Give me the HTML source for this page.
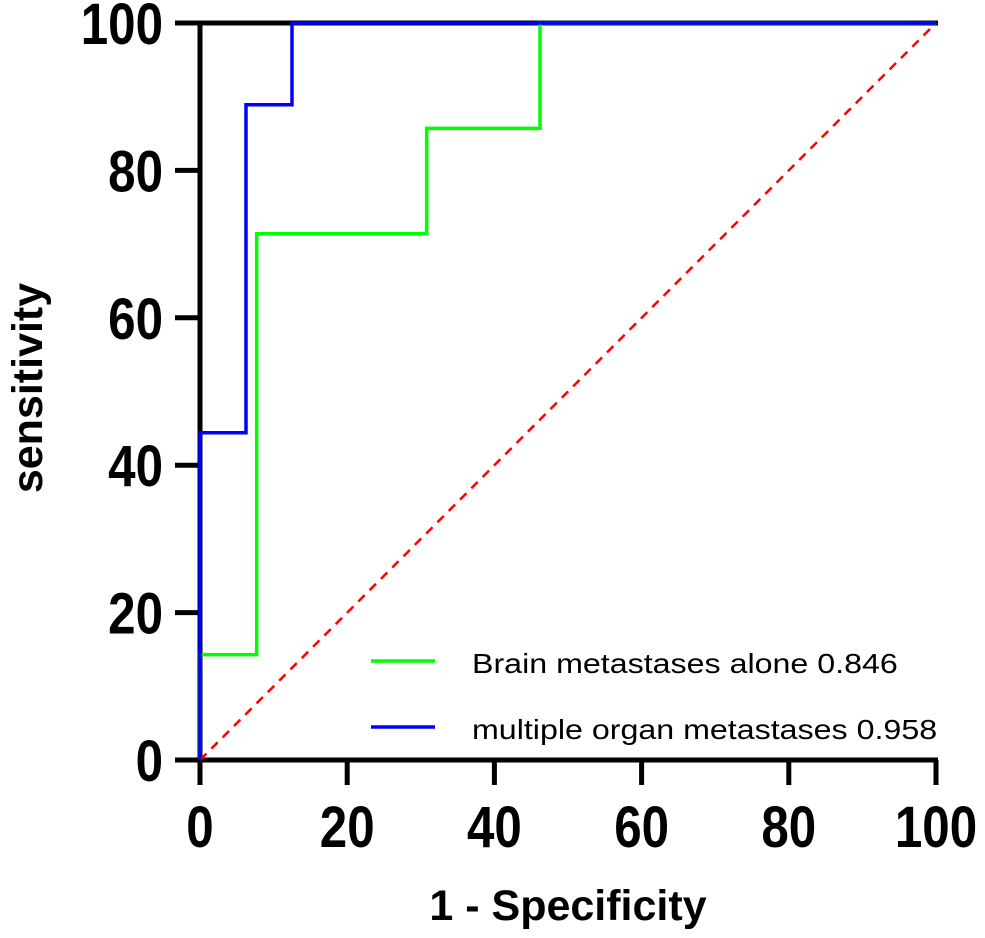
<!DOCTYPE html>
<html><head><meta charset="utf-8"><style>
body{margin:0;background:#fff;}
svg text{font-family:"Liberation Sans",Arial,sans-serif;}
</style></head><body>
<svg id="chart" width="985" height="933" viewBox="0 0 985 933" xmlns="http://www.w3.org/2000/svg">
<g id="axes"></g>
<g id="marks"></g>
</svg>
<script>
const xTicks=[0,20,40,60,80,100];
const yTicks=[0,20,40,60,80,100];
const greenX=[0,0,7.7,7.7,30.8,30.8,46.2,46.2,100];
const greenY=[0,14.3,14.3,71.4,71.4,85.7,85.7,100,100];
const blueX=[0,0,6.25,6.25,12.5,12.5,100];
const blueY=[0,44.4,44.4,88.9,88.9,100,100];
const seriesNames=["Brain metastases alone 0.846","multiple organ metastases 0.958"];

const X0=200,X1=936,Y0=760,Y1=23;
const sx=v=>X0+(X1-X0)*v/100;
const sy=v=>Y0-(Y0-Y1)*v/100;
const NS="http://www.w3.org/2000/svg";
const marksG=document.getElementById('marks');
const axesG=document.getElementById('axes');
function mk(tag,attrs,parent){const e=document.createElementNS(NS,tag);for(const k in attrs)e.setAttribute(k,attrs[k]);parent.appendChild(e);return e;}

const yAxisLine=mk('line',{x1:X0,y1:Y1-2,x2:X0,y2:Y0+2,stroke:'#000','stroke-width':5},axesG);


const xAxisLine=mk('line',{x1:X0-25,y1:Y0,x2:X1+2,y2:Y0,stroke:'#000','stroke-width':5},axesG);


const topBorder=mk('line',{x1:X0-25,y1:Y1,x2:X1+2,y2:Y1,stroke:'#000','stroke-width':5},axesG);



xTicks.forEach(v=>{
  const t=mk('line',{x1:sx(v),y1:Y0,x2:sx(v),y2:Y0+25,stroke:'#000','stroke-width':5},axesG);
  
  
  const l=mk('text',{x:0,y:0,transform:'translate('+sx(v)+',847) scale(0.85,1)','text-anchor':'middle','font-size':58,'font-weight':'bold'},axesG);
  l.textContent=v;
  
  
});
yTicks.forEach(v=>{
  const t=mk('line',{x1:X0-25,y1:sy(v),x2:X0,y2:sy(v),stroke:'#000','stroke-width':5},axesG);
  
  
  const l=mk('text',{x:0,y:0,transform:'translate(163,'+(sy(v)+21)+') scale(0.85,1)','text-anchor':'end','font-size':58,'font-weight':'bold'},axesG);
  l.textContent=v;
  
  
});
const xTitle=mk('text',{x:568,y:920,'text-anchor':'middle','font-size':43,'font-weight':'bold'},axesG);
xTitle.textContent='1 - Specificity';


const yTitle=mk('text',{x:0,y:0,'text-anchor':'middle','font-size':43,'font-weight':'bold',transform:'translate(42,388) rotate(-90)'},axesG);
yTitle.textContent='sensitivity';



const diag=mk('line',{x1:sx(0),y1:sy(0),x2:sx(100),y2:sy(100),stroke:'#ff0000','stroke-width':2.5,'stroke-dasharray':'9,7'},marksG);



function poly(xs,ys,color,name){
  const p=mk('polyline',{points:xs.map((x,i)=>sx(x)+','+sy(ys[i])).join(' '),fill:'none',stroke:color,'stroke-width':3.5},marksG);
  
  
}
poly(greenX,greenY,'#00ff00','roc-brain-metastases');
poly(blueX,blueY,'#0000ff','roc-multiple-organ');

const legColors=['#00ff00','#0000ff'];
seriesNames.forEach((n,i)=>{
  const y=661+i*66;
  const ln=mk('line',{x1:371,y1:y,x2:435,y2:y,stroke:legColors[i],'stroke-width':3.5},marksG);
  
  
  const tx=mk('text',{x:0,y:0,transform:'translate(472,'+(y+12)+') scale(1.15,1)','font-size':28},marksG);
  tx.textContent=n;
  
  
});
</script>
</body></html>
